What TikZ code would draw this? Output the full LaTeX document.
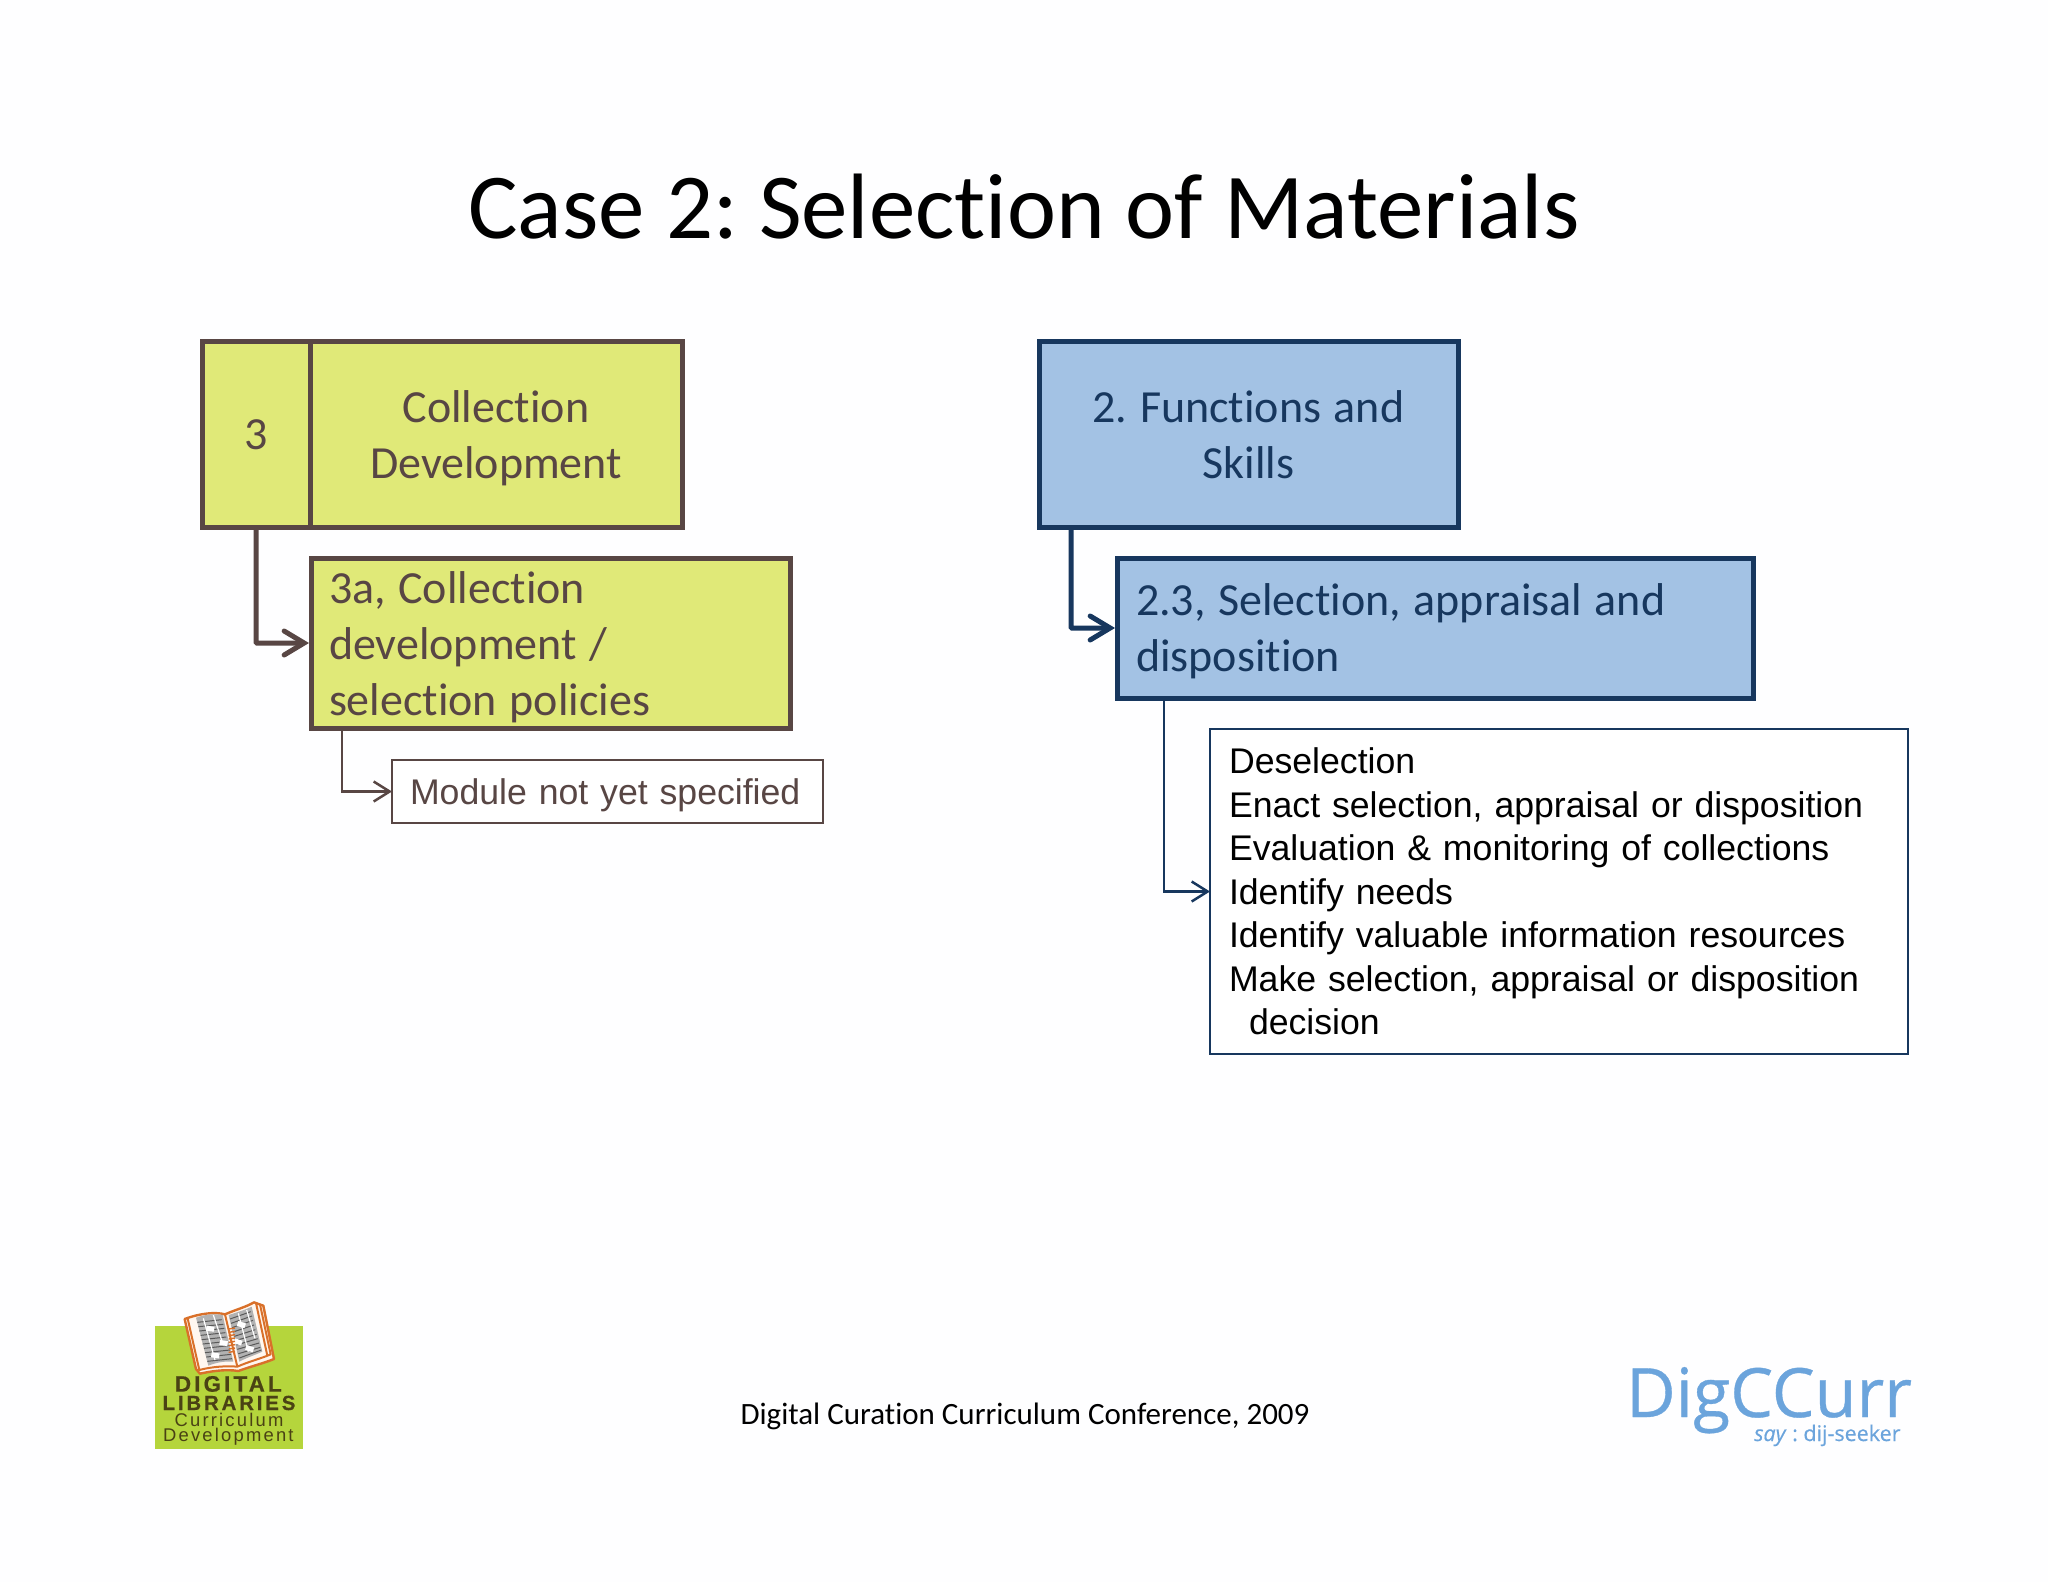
\documentclass[tikz,border=0pt]{standalone}
\usepackage{fontspec}
\setmainfont{Carlito}[Ligatures=CommonOff]
\newfontfamily\arialf{Liberation Sans}
\newfontfamily\logof[LetterSpace=12]{Liberation Sans}
\newfontfamily\logofb[LetterSpace=14,FakeBold=0.6]{Liberation Sans Bold}
\newfontfamily\digf[FakeBold=0.5]{Open Sans}
\usetikzlibrary{arrows.meta,calc}
\definecolor{ygreen}{HTML}{E0E978}
\definecolor{brownb}{HTML}{584644}
\definecolor{bluef}{HTML}{A3C2E4}
\definecolor{navyb}{HTML}{17375E}
\definecolor{digblue}{HTML}{6BA4DC}
\definecolor{lime}{HTML}{B5D53C}
\definecolor{logoor}{HTML}{D9702A}
\definecolor{logotxt}{HTML}{4A4214}
\newcommand{\tst}[1]{\rule{0pt}{#1pt}}
\newcommand{\bst}{\rule[-12.5pt]{0pt}{12.5pt}}
\newcommand{\ns}{\spaceskip 12.6pt\relax}
\tikzset{
  x=1pt,y=-1pt,
  boxbase/.style={inner sep=0pt,outer sep=0pt,line join=miter},
  bigbox/.style={boxbase,line width=5pt,font=\fontsize{46}{56}\selectfont,align=center},
  ybox/.style={bigbox,draw=brownb,fill=ygreen,text=brownb},
  bbox/.style={bigbox,draw=navyb,fill=bluef,text=navyb},
  leftbox/.style={inner xsep=19pt,align=left},
  thick arrow/.style={line width=5pt,-{Straight Barb[length=20pt,width=24pt,line cap=round]},rounded corners=1pt,shorten >=2pt},
  thin arrow/.style={line width=2.5pt,-{Straight Barb[length=16pt,width=20pt]}},
  thin box/.style={boxbase,line width=2.5pt,fill=white},
}
\begin{document}
\frenchspacing
\begin{tikzpicture}
\useasboundingbox (0,0) rectangle (2048,1582);
\fill[white!99.5!blue] (0,0) rectangle (2048,1582);
\node[anchor=base,font=\fontsize{92.9}{100}\selectfont] (title) at (1024,238) {Case 2: Selection of Materials};

% left column
\node[ybox,minimum width=108pt,minimum height=186pt] (n3) at (256,434) {\tst{42.5}3\bst};
\node[ybox,minimum width=372pt,minimum height=186pt,text width=340pt] (coll) at (496,434) {\tst{45.5}Collection\\Development\bst};
\node[ybox,leftbox,inner xsep=18pt,minimum width=479pt,minimum height=170pt,text width=443pt] (n3a) at (550.5,643) {\ns\tst{45.5}3a, Collection\\development /\\selection policies\bst};
\node[thin box,draw=brownb,text=brownb,minimum width=431pt,minimum height=63pt,text width=405pt,inner xsep=13pt,align=left,font=\arialf\fontsize{35.65}{43}\selectfont] (mod) at (607.5,791.5) {\hspace*{5pt}\tst{38.9}Module not yet specified\bst};
\draw[thick arrow,draw=brownb] (n3.south) |- (n3a.west);
\draw[thin arrow,draw=brownb] ([xshift=31pt]n3a.south west) |- (mod.west);

% right column
\node[bbox,minimum width=419pt,minimum height=186pt,text width=380pt] (n2) at (1248.5,434) {\ns\tst{45.5}2. Functions and\\Skills\bst};
\node[bbox,leftbox,minimum width=636pt,minimum height=140pt,text width=598pt] (n23) at (1435,628) {\ns\tst{43.5}2.3, Selection, appraisal and\\disposition\bst};
\node[thin box,draw=navyb,text=black,minimum width=698pt,minimum height=325pt,text width=660pt,leftbox,font=\arialf\fontsize{35.65}{43.5}\selectfont] (list) at (1559,891.5) {Deselection\\Enact selection, appraisal or disposition\\Evaluation \& monitoring of collections\\Identify needs\\Identify valuable information resources\\Make selection, appraisal or disposition\\\hspace*{20pt}decision};
\draw[thick arrow,draw=navyb] ([xshift=32pt]n2.south west) |- (n23.west);
\draw[thin arrow,draw=navyb] ([xshift=47pt]n23.south west) |- (list.west);

% footer
\node[font=\fontsize{31}{36}\selectfont] (foot) at (1025,1416.5) {Digital Curation Curriculum Conference, 2009};

% DigCCurr logo
\node[anchor=base west,inner sep=0pt,text=digblue,font=\digf\fontsize{68}{70}\selectfont] (dig) at (1626,1417) {DigCCurr};
\node[anchor=base west,inner sep=0pt,text=digblue,font=\digf\fontsize{21.5}{26}\selectfont] (say) at (1754,1441) {\textit{say} : dij-seeker};

% Digital Libraries logo (coordinates are those of a 3x crop)
\begin{scope}[shift={(130,1270)},scale=1/3]
\fill[lime] (75,168) rectangle (518,537);
\begin{scope}[shift={(150,75)}]
\fill[white!94!orange,draw=logoor,line width=2.4pt,line join=round] (14,72) .. controls (60,55) and (105,50) .. (135,58) .. controls (165,45) and (200,35) .. (222,22) -- (250,32) -- (282,192) .. controls (250,205) and (210,215) .. (175,228) .. controls (140,222) and (95,228) .. (60,236) -- (48,222) -- cycle;
\draw[logoor,line width=2pt,line join=round] (22,66) -- (58,225) .. controls (95,215) and (140,212) .. (172,215) .. controls (205,200) and (245,190) .. (272,178) -- (240,28);
\draw[logoor,line width=2pt] (135,58) -- (172,215);
\draw[logoor,line width=2pt] (228,24) -- (262,182);
% circuit areas
\fill[gray!60!white] (48,68) .. controls (75,58) and (105,55) .. (128,60) -- (160,200) .. controls (135,198) and (110,202) .. (85,212) -- cycle;
\fill[gray!60!white] (146,60) .. controls (170,52) and (195,45) .. (215,35) -- (247,170) .. controls (225,180) and (200,188) .. (178,200) -- cycle;
\foreach \a/\b/\c/\d in {52/82/125/74, 55/95/130/88, 58/108/133/100, 62/121/136/113, 65/134/139/126, 68/147/143/139, 72/160/146/152, 75/173/150/165, 79/186/153/178, 82/199/156/191,
  150/72/212/50, 153/85/216/63, 156/98/219/76, 159/111/222/90, 163/124/226/104, 166/137/230/118, 169/150/233/131, 172/163/237/144, 175/176/241/157, 178/189/244/165}{
  \draw[gray!70!black,line width=1pt] (\a,\b) -- (\c,\d);
}
\foreach \a/\b/\c/\d in {70/70/105/195, 100/60/130/150, 175/55/205/170, 200/45/225/130}{
  \draw[white,line width=1.2pt] (\a,\b) -- (\c,\d);
}
\foreach \x/\y/\r in {80/92/-8, 120/135/-8, 95/172/-8, 175/78/-18, 200/150/-18, 165/130/-18}{
  \fill[white,rotate around={\r:(\x,\y)}] (\x,\y) rectangle ++(24,15);
}
% spine ladder
\foreach \y in {102,112,122,132,142,152,162,172}{
  \draw[logoor,line width=1.4pt] (146,\y) -- (165,\y-3);
}
\end{scope}
\node[anchor=base,inner sep=0pt,text=logotxt,font=\logofb\fontsize{22.4}{23}\selectfont] (lg1) at (295,365) {DIGITAL};
\node[anchor=base,inner sep=0pt,text=logotxt,font=\logofb\fontsize{20.4}{22}\selectfont] (lg2) at (297,420) {LIBRARIES};
\node[anchor=base,inner sep=0pt,text=logotxt,font=\logof\fontsize{18.4}{19}\selectfont] (lg3) at (297,468) {Curriculum};
\node[anchor=base,inner sep=0pt,text=logotxt,font=\logof\fontsize{18.4}{19}\selectfont] (lg4) at (295,514) {Development};
\end{scope}
\end{tikzpicture}
\end{document}
